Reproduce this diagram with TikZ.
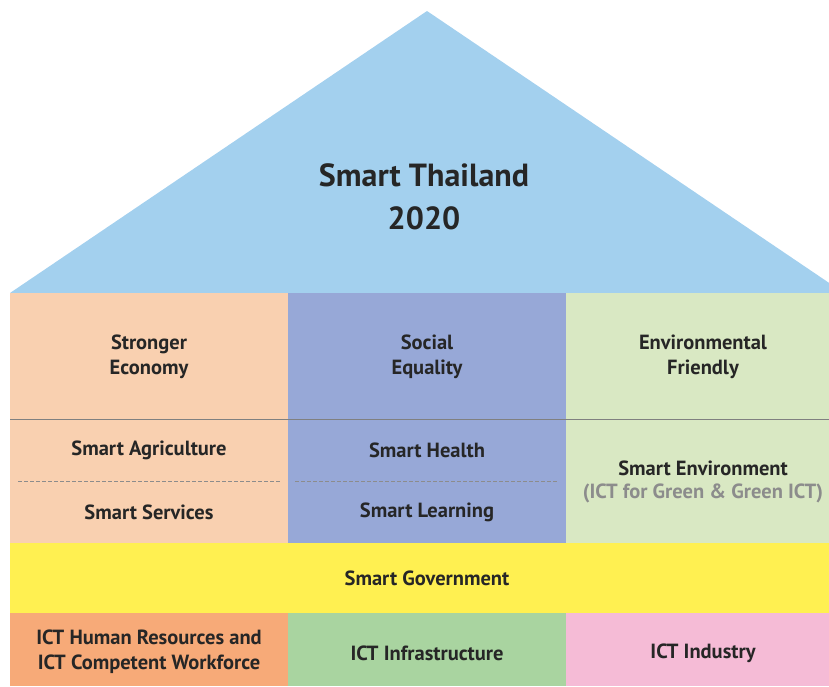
\documentclass[tikz,border=0pt]{standalone}
\usepackage{fontspec}
\setmainfont{PT Sans}
\begin{document}
\begin{tikzpicture}[x=1pt,y=-1pt,
  lbl/.style={font=\bfseries\fontsize{20.5}{25}\selectfont, text=black!85, align=center, inner sep=0pt},
  sub/.style={font=\bfseries\fontsize{20.5}{25}\selectfont, text=black!45, align=center, inner sep=0pt},
  ttl/.style={font=\bfseries\fontsize{32}{43}\selectfont, text=black!85, align=center, inner sep=0pt},
  solidrule/.style={draw=black!50, line width=1.3pt},
  dashrule/.style={draw=black!45, line width=0.9pt, dash pattern=on 3.5pt off 2.5pt}]
\definecolor{roof}{HTML}{A3D0EE}
\definecolor{peach}{HTML}{F9D0B0}
\definecolor{lavender}{HTML}{97A8D7}
\definecolor{sage}{HTML}{D9E8C3}
\definecolor{govyellow}{HTML}{FFF051}
\definecolor{orangefill}{HTML}{F7AA78}
\definecolor{greenfill}{HTML}{A9D4A0}
\definecolor{pinkfill}{HTML}{F5BBD6}
\useasboundingbox (0,0) rectangle (829,686);
\begin{scope}
\clip (0,0) rectangle (829,686);
% roof
\fill[roof] (10,293) -- (427,11) -- (844,293) -- cycle;
% pillars
\fill[peach] (10,293) rectangle (288,543);
\fill[lavender] (288,293) rectangle (566,543);
\fill[sage] (566,293) rectangle (829,543);
% government band
\fill[govyellow] (10,543) rectangle (829,613);
% foundation
\fill[orangefill] (10,613) rectangle (288,686);
\fill[greenfill] (288,613) rectangle (566,686);
\fill[pinkfill] (566,613) rectangle (829,686);
\end{scope}
% rules
\coordinate (ruleL) at (10,419.5);
\coordinate (ruleR) at (829,419.5);
\draw[solidrule] (ruleL) -- (ruleR);
\coordinate (dashAL) at (18,481);
\coordinate (dashAR) at (280,481);
\coordinate (dashBL) at (295,481);
\coordinate (dashBR) at (558,481);
\draw[dashrule] (dashAL) -- (dashAR);
\draw[dashrule] (dashBL) -- (dashBR);
% texts
\node[ttl] (title) at (424,197) {Smart Thailand\\2020};
\node[lbl] (econ) at (149,357) {Stronger\\Economy};
\node[lbl] (equal) at (427,357) {Social\\Equality};
\node[lbl] (envf) at (703,357) {Environmental\\Friendly};
\node[lbl] (agri) at (149,450) {Smart Agriculture};
\node[lbl] (serv) at (149,512) {Smart Services};
\node[lbl] (health) at (427,450) {Smart Health};
\node[lbl] (learn) at (427,512) {Smart Learning};
\node[lbl] (env) at (703,468) {Smart Environment};
\node[sub] (green) at (703,493) {(ICT for Green \& Green ICT)};
\node[lbl] (gov) at (427,578) {Smart Government};
\node[lbl] (hr) at (149,652) {ICT Human Resources and\\ICT Competent Workforce};
\node[lbl] (infra) at (427,653) {ICT Infrastructure};
\node[lbl] (ind) at (703,653) {ICT Industry};
\end{tikzpicture}
\end{document}
